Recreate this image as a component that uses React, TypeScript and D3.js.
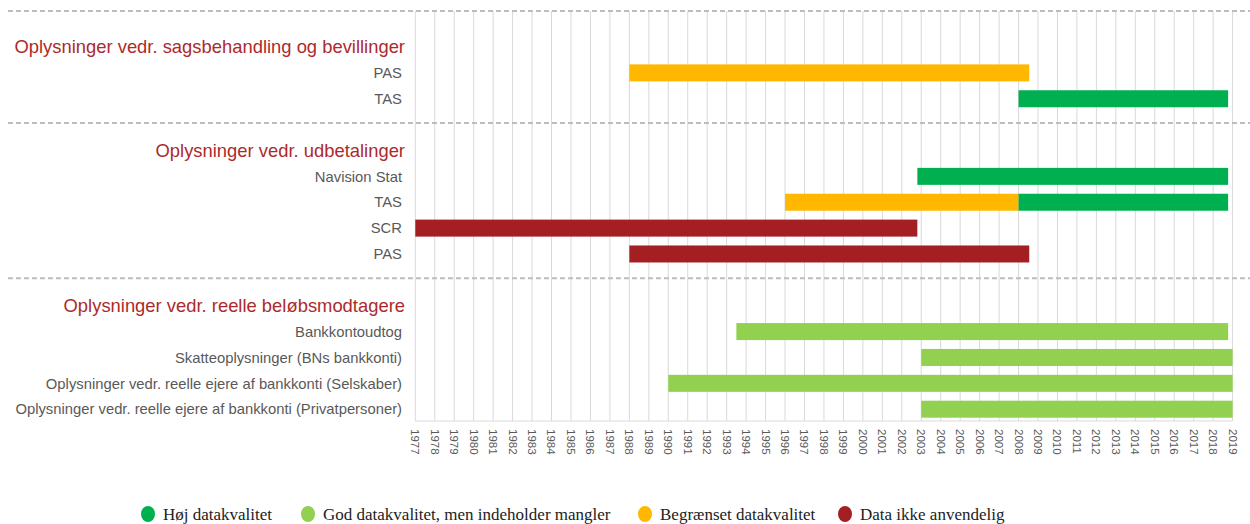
import * as d3 from "d3";

const W = 1250;
const H = 524;

// section headings and rows
const sectionTitles = [
  "Oplysninger vedr. sagsbehandling og bevillinger",
  "Oplysninger vedr. udbetalinger",
  "Oplysninger vedr. reelle beløbsmodtagere",
];
const rowLabels = [
  "PAS",
  "TAS",
  "Navision Stat",
  "TAS",
  "SCR",
  "PAS",
  "Bankkontoudtog",
  "Skatteoplysninger (BNs bankkonti)",
  "Oplysninger vedr. reelle ejere af bankkonti (Selskaber)",
  "Oplysninger vedr. reelle ejere af bankkonti (Privatpersoner)",
];
const rowSection = [0, 0, 1, 1, 1, 1, 2, 2, 2, 2];

// bars: row index, start year, end year, quality class
const segRow = [0, 1, 2, 3, 3, 4, 5, 6, 7, 8, 9];
const segStart = [1988, 2008, 2002.8, 1996, 2008, 1977, 1988, 1993.5, 2003, 1990, 2003];
const segEnd = [2008.55, 2018.77, 2018.77, 2008, 2018.77, 2002.8, 2008.55, 2018.77, 2019, 2019, 2019];
const segQuality = [2, 0, 0, 2, 0, 3, 3, 1, 1, 1, 1];

const qualityLabels = [
  "Høj datakvalitet",
  "God datakvalitet, men indeholder mangler",
  "Begrænset datakvalitet",
  "Data ikke anvendelig",
];
const qualityColors = ["#00b050", "#92d050", "#ffb700", "#a31f22"];

const firstYear = 1977;
const lastYear = 2019;
const years = d3.range(firstYear, lastYear + 1);

// legend x positions of the markers
const legendX = [148, 308, 645, 845];

export default function App() {
  // slot layout: heading, rows, separator per section
  const slotOfRow: number[] = [];
  const headingSlot: number[] = [];
  const separatorSlot: number[] = [];
  let slot = 1;
  sectionTitles.forEach((_, s) => {
    if (s > 0) {
      separatorSlot.push(slot);
      slot += 1;
    }
    headingSlot.push(slot);
    slot += 1;
    rowLabels.forEach((_, i) => {
      if (rowSection[i] === s) {
        slotOfRow[i] = slot;
        slot += 1;
      }
    });
  });

  const x = d3.scaleLinear().domain([firstYear, lastYear]).range([415.3, 1232.6]);
  const y = d3.scaleLinear().domain([1, 15]).range([47, 409.2]);
  const barH = 17;
  const top = 11;
  const bottom = 421;

  const labelColor = "#595959";
  const titleColor = "#ad2a2c";
  const sans = "'Liberation Sans', Arial, sans-serif";

  return (
    <svg
      width={W}
      height={H}
      style={{ position: "absolute", left: 0, top: 0, background: "#fff" }}
    >
      {/* vertical grid */}
      {years.map((yr) => (
        <line
          key={"g" + yr}
          x1={x(yr)}
          x2={x(yr)}
          y1={top}
          y2={bottom}
          stroke="#d9d9d9"
          strokeWidth={1}
        />
      ))}
      <line x1={x(firstYear)} x2={x(lastYear)} y1={bottom} y2={bottom} stroke="#d9d9d9" />

      {/* section separators */}
      {[top, ...separatorSlot.map((s) => y(s) - 1.5)].map((yy, i) => (
        <line
          key={"sep" + i}
          x1={8}
          x2={W}
          y1={yy}
          y2={yy}
          stroke="#bdbdbd"
          strokeWidth={2}
          strokeDasharray="5,3"
        />
      ))}

      {/* section headings */}
      {sectionTitles.map((t, s) => (
        <text
          key={"h" + s}
          x={405}
          y={y(headingSlot[s])}
          dy="0.35em"
          textAnchor="end"
          fill={titleColor}
          fontFamily={sans}
          fontSize={18.4}
        >
          {t}
        </text>
      ))}

      {/* row labels */}
      {rowLabels.map((l, i) => (
        <text
          key={"r" + i}
          x={402}
          y={y(slotOfRow[i])}
          dy="0.35em"
          textAnchor="end"
          fill={labelColor}
          fontFamily={sans}
          fontSize={14.8}
        >
          {l}
        </text>
      ))}

      {/* bars */}
      {segRow.map((r, i) => (
        <rect
          key={"b" + i}
          x={x(segStart[i])}
          y={y(slotOfRow[r]) - barH / 2}
          width={x(segEnd[i]) - x(segStart[i])}
          height={barH}
          fill={qualityColors[segQuality[i]]}
        />
      ))}

      {/* year ticks */}
      {years.map((yr) => (
        <text
          key={"t" + yr}
          transform={`translate(${x(yr)},${bottom + 8}) rotate(90)`}
          dy="0.35em"
          fill={labelColor}
          fontFamily={sans}
          fontSize={11.5}
        >
          {yr}
        </text>
      ))}

      {/* legend */}
      {qualityLabels.map((l, i) => (
        <g key={"l" + i} transform={`translate(${legendX[i]},514)`}>
          <ellipse rx={7} ry={8} fill={qualityColors[i]} />
          <text
            x={15}
            dy="0.35em"
            fill="#222"
            fontFamily="'Liberation Serif', 'Times New Roman', serif"
            fontSize={17}
          >
            {l}
          </text>
        </g>
      ))}
    </svg>
  );
}
